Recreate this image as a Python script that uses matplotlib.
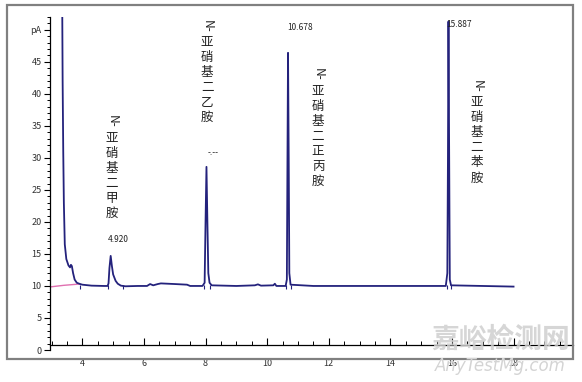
import numpy as np
import matplotlib
matplotlib.use('Agg')
import matplotlib.pyplot as plt
from matplotlib.patches import Rectangle
from matplotlib.ticker import MultipleLocator, FixedLocator

plt.rcParams['font.family'] = ['Noto Sans CJK SC', 'DejaVu Sans']

# хроматограмма: время удерживания (мин) и сигнал (pA)
t = [3.34, 3.36, 3.38, 3.40, 3.43, 3.48, 3.55, 3.60, 3.63, 3.66, 3.70, 3.75,
     3.82, 3.90, 4.00, 4.30, 4.70, 4.82, 4.85, 4.88, 4.92, 4.96, 5.00, 5.08,
     5.15, 5.25, 5.40, 5.80, 6.10, 6.20, 6.30, 6.45, 6.55, 7.00, 7.40, 7.50,
     7.90, 7.97, 8.00, 8.03, 8.06, 8.09, 8.13, 8.20, 9.00, 9.60, 9.70, 9.80,
     10.20, 10.25, 10.30, 10.60, 10.64, 10.66, 10.678, 10.70, 10.72, 10.76,
     11.50, 13.00, 15.80, 15.85, 15.87, 15.887, 15.91, 15.93, 15.97, 18.00]
signal = [60.0, 42.0, 31.0, 23.0, 16.5, 14.2, 13.2, 12.9, 13.3, 13.1, 12.0, 11.0,
          10.5, 10.35, 10.2, 10.05, 10.0, 10.0, 10.4, 12.8, 14.7, 13.1, 11.8, 10.8,
          10.35, 10.05, 9.95, 10.0, 10.0, 10.3, 10.1, 10.3, 10.4, 10.3, 10.2, 10.0,
          10.0, 10.5, 20.0, 28.6, 20.0, 12.0, 10.5, 10.1, 10.0, 10.1, 10.25, 10.05,
          10.1, 10.35, 10.0, 10.0, 11.0, 30.0, 46.4, 30.0, 12.0, 10.2,
          10.0, 10.0, 10.0, 12.0, 30.0, 51.3, 30.0, 11.0, 10.1, 9.9]

# базовая линия интегратора (розовая)
base_t = [2.95, 3.40, 3.90]
base_y = [9.85, 10.1, 10.3]

# метки интегрирования
marks = [3.92, 4.83, 5.32, 7.95, 8.16, 10.62, 10.78, 15.83, 15.96]

peaks_rt = ['4.920', '-.--', '10.678', '15.887']
names = ['甲胺', '乙胺', '正丙胺', '苯胺']

fig = plt.figure(figsize=(5.82, 3.82), dpi=100)
W, H = 582, 382

# серая рамка вокруг графика
fig.patches.append(Rectangle((7 / W, 1 - 359 / H), 566 / W, 354 / H,
                             transform=fig.transFigure, fill=False,
                             edgecolor='#808080', lw=1.6))

ax = fig.add_axes([50 / W, 1 - 350 / H, 523 / W, 333 / H])
ax.set_xlim(2.95, 19.93)
ax.set_ylim(0, 52)
ax.patch.set_alpha(0)
for s in ['top', 'right']:
    ax.spines[s].set_visible(False)
ax.spines['bottom'].set_position(('data', 0.8))
ax.spines['left'].set_linewidth(0.9)
ax.spines['bottom'].set_linewidth(0.9)

ax.plot(base_t, base_y, color='#e070b0', lw=1.0)
ax.plot(t, signal, color='#24227c', lw=1.3, clip_on=True)
ax.vlines(marks, 9.5, 10.2, color='#24227c', lw=0.8)

ax.xaxis.set_major_locator(FixedLocator([4, 6, 8, 10, 12, 14, 16, 18]))
ax.xaxis.set_minor_locator(MultipleLocator(0.5))
ax.yaxis.set_minor_locator(MultipleLocator(1))
ax.set_yticks(np.arange(0, 51, 5))
ax.set_yticklabels([str(v) for v in range(0, 50, 5)] + ['pA'])

ax.tick_params(axis='x', which='major', direction='in', length=5, pad=10.5,
               labelsize=6.5, labelcolor='#333333', width=0.8)
ax.tick_params(axis='x', which='minor', direction='in', length=3, width=0.7)
ax.tick_params(axis='y', which='major', direction='out', length=4, pad=2,
               labelsize=6.5, labelcolor='#333333', width=0.8)
ax.tick_params(axis='y', which='minor', direction='out', length=2.5, width=0.7)


def vlabel(x, ytop, chars):
    ax.text(x, ytop, 'N-', rotation=270, ha='center', va='top',
            fontsize=8.5, color='#222222', clip_on=False)
    ax.annotate('\n'.join('亚硝基二' + chars), xy=(x, ytop), xytext=(0, -12),
                textcoords='offset points', ha='center', va='top',
                fontsize=9, linespacing=1.2, color='#222222',
                annotation_clip=False)


# подписи пиков
label_pos = [(4.96, 36.7), (8.05, 51.6), (11.65, 44.0), (16.81, 42.2)]
rt_pos = [(5.16, 17.3, 'center'), (8.24, 30.8, 'center'),
          (10.645, 50.3, 'left'), (15.80, 50.8, 'left')]
for (x, y), n in zip(label_pos, names):
    vlabel(x, y, n)
for (x, y, ha), rt in zip(rt_pos, peaks_rt):
    ax.text(x, y, rt, ha=ha, va='center', fontsize=6, color='#222222',
            clip_on=False)

# водяной знак
fig.text(501 / W, 1 - 340 / H, '嘉峪检测网', ha='center', va='center',
         fontsize=20, fontweight='bold', color='#cfcfcf', alpha=0.85)
fig.text(500 / W, 1 - 366 / H, 'AnyTestMg.com', ha='center', va='center',
         fontsize=12, style='italic', color='#d4d4d4', family='DejaVu Sans')

fig.savefig('out.png', dpi=100)
